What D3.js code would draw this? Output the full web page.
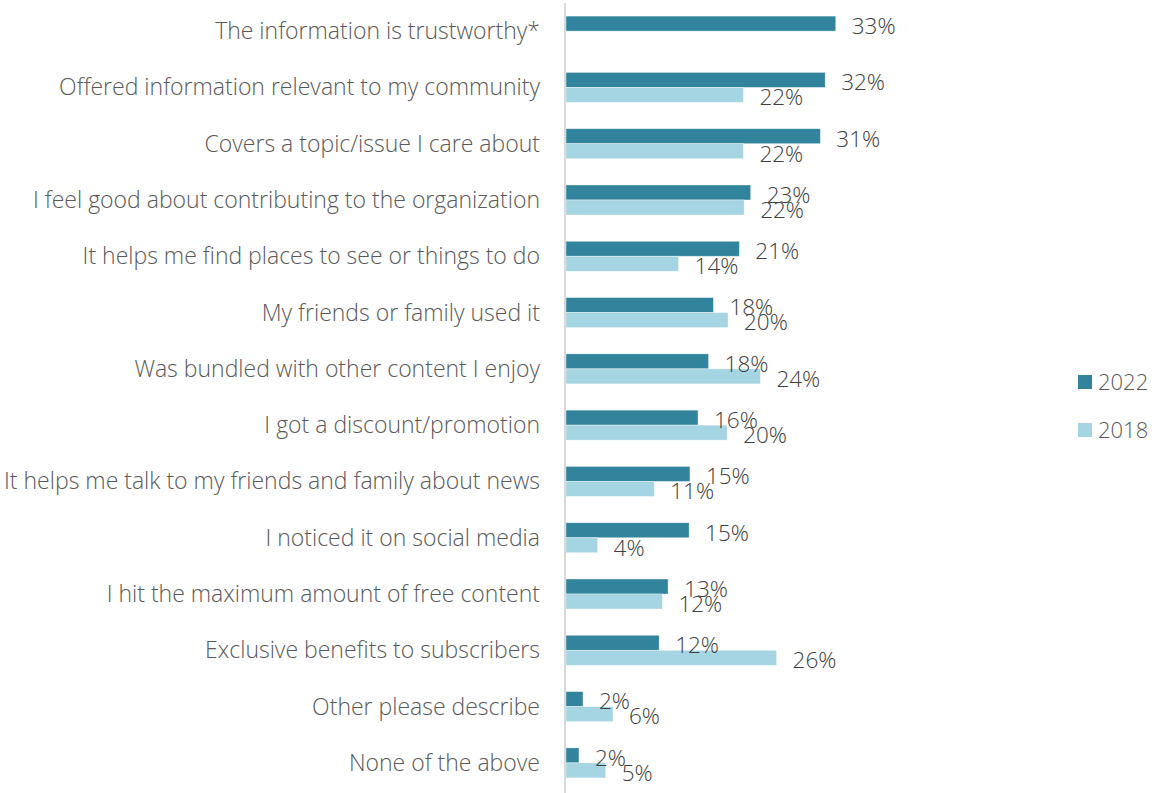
<!DOCTYPE html>
<html>
<head>
<meta charset="utf-8">
<script src="https://cdn.jsdelivr.net/npm/d3@7"></script>
<style>
  body { margin: 0; background: #fff; }
  svg { display: block; font-family: "Open Sans", sans-serif; font-weight: 300; }
</style>
</head>
<body>
<div id="chart"></div>
<script>
// categories, top to bottom
const categories = [
  'The information is trustworthy*',
  'Offered information relevant to my community',
  'Covers a topic/issue I care about',
  'I feel good about contributing to the organization',
  'It helps me find places to see or things to do',
  'My friends or family used it',
  'Was bundled with other content I enjoy',
  'I got a discount/promotion',
  'It helps me talk to my friends and family about news',
  'I noticed it on social media',
  'I hit the maximum amount of free content',
  'Exclusive benefits to subscribers',
  'Other please describe',
  'None of the above'
]

// share of respondents
const values2022 = [0.333, 0.320, 0.314, 0.228, 0.214, 0.182, 0.176, 0.163, 0.153, 0.152, 0.126, 0.115, 0.021, 0.016]
const values2018 = [null, 0.219, 0.219, 0.220, 0.139, 0.200, 0.240, 0.199, 0.109, 0.039, 0.119, 0.260, 0.058, 0.049]

const seriesNames = ['2022', '2018']
const colors = ['#31849b', '#a5d5e2']

const width = 1155
const height = 793
const x0 = 566

const rows = categories.map((c, i) => ({
  category: c,
  values: [values2022[i], values2018[i]]
}))

const svg = d3.select('#chart')
  .append('svg')
  .attr('width', width)
  .attr('height', height)

const x = d3.scaleLinear()
  .domain([0, 0.35])
  .range([x0, x0 + 35 * 8.1])

const y = d3.scaleBand()
  .domain(categories)
  .range([3, 791])
  .paddingInner(0.467)
  .paddingOuter(0.233)

const ySeries = d3.scaleBand()
  .domain(seriesNames)
  .range([0, y.bandwidth()])

const fmt = d3.format('.0%')

// category labels
svg.append('g')
  .selectAll('text')
  .data(categories)
  .join('text')
  .attr('x', x0 - 26)
  .attr('y', d => y(d) + y.bandwidth() / 2)
  .attr('dy', '0.35em')
  .attr('text-anchor', 'end')
  .attr('fill', '#595959')
  .attr('font-size', 23)
  .text(d => d)

// bars
const groups = svg.append('g')
  .selectAll('g')
  .data(rows)
  .join('g')
  .attr('transform', d => `translate(0,${y(d.category)})`)

const cells = d => seriesNames.map((s, j) => ({ series: s, j, value: d.values[j] }))
  .filter(c => c.value != null)

groups.selectAll('rect')
  .data(cells)
  .join('rect')
  .attr('x', x(0))
  .attr('y', c => ySeries(c.series))
  .attr('width', c => x(c.value) - x(0))
  .attr('height', ySeries.bandwidth())
  .attr('fill', c => colors[c.j])
  .attr('stroke', '#fff')
  .attr('stroke-opacity', 0.5)
  .attr('stroke-width', 0.75)

// value labels
groups.selectAll('text')
  .data(cells)
  .join('text')
  .attr('x', c => x(c.value) + 16)
  .attr('y', c => ySeries(c.series) + ySeries.bandwidth() / 2 + 2.5)
  .attr('dy', '0.35em')
  .attr('fill', '#404040')
  .attr('font-size', 22.5)
  .text(c => fmt(c.value))

// axis line
svg.append('line')
  .attr('x1', x(0) - 1)
  .attr('x2', x(0) - 1)
  .attr('y1', 3)
  .attr('y2', height)
  .attr('stroke', '#d9d9d9')
  .attr('stroke-width', 2)

// legend
const legend = svg.append('g')
  .selectAll('g')
  .data(seriesNames)
  .join('g')
  .attr('transform', (d, i) => `translate(1078,${382 + i * 48})`)

legend.append('rect')
  .attr('y', -7)
  .attr('width', 14)
  .attr('height', 14)
  .attr('fill', (d, i) => colors[i])

legend.append('text')
  .attr('x', 20)
  .attr('dy', '0.35em')
  .attr('fill', '#595959')
  .attr('font-size', 22)
  .text(d => d)
</script>
</body>
</html>
